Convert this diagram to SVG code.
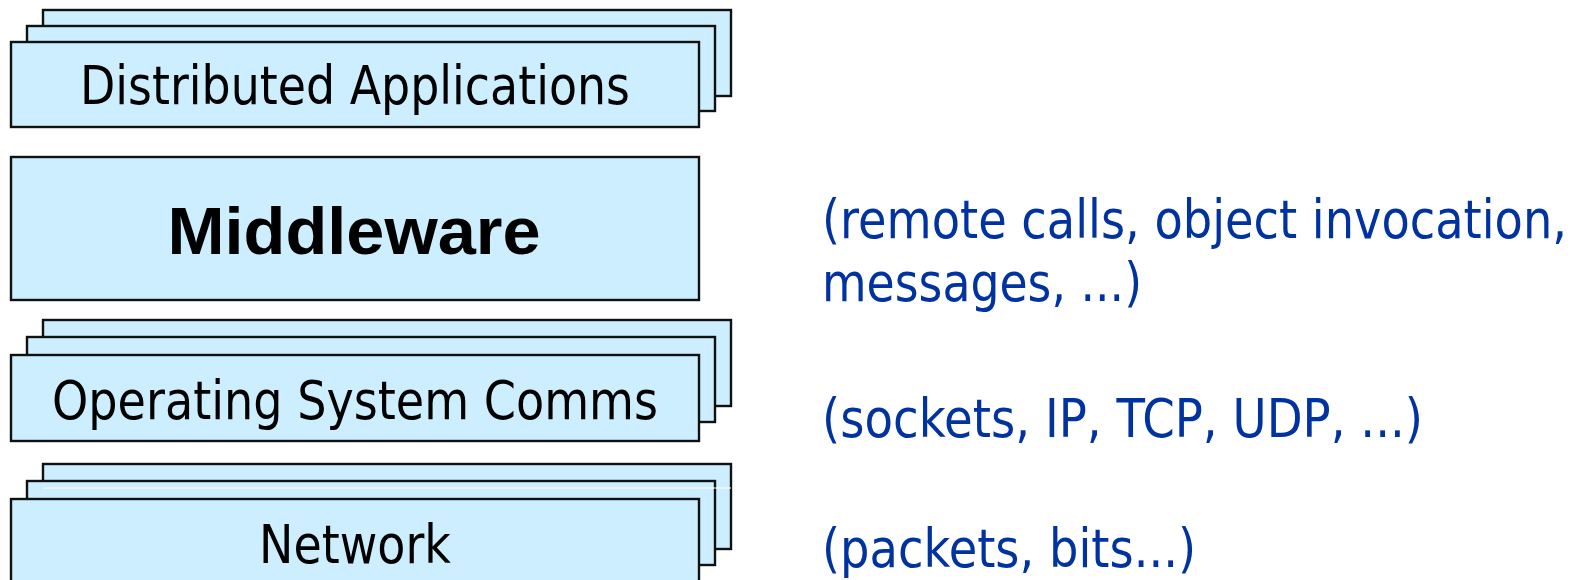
<svg xmlns="http://www.w3.org/2000/svg" width="1576" height="580" viewBox="0 0 1576 580">
  <style>
    .layer { fill: #cceeff; stroke: #111111; stroke-width: 2.4; }
    .label { font-family: "DejaVu Sans", "Liberation Sans", sans-serif; font-size: 53px; fill: #000000; text-anchor: middle; }
    .bold { font-family: "Liberation Sans", Arial, sans-serif; font-size: 67px; font-weight: bold; fill: #000000; text-anchor: middle; }
    .note { font-family: "DejaVu Sans", "Liberation Sans", sans-serif; font-size: 53px; fill: #0033a0; }
  </style>
  <rect width="1576" height="580" fill="#ffffff"/>

  <g id="distributed-applications">
    <rect class="layer" x="43" y="10" width="688" height="86"/>
    <rect class="layer" x="27" y="26" width="688" height="85"/>
    <rect class="layer" x="11" y="42" width="688" height="85"/>
    <text class="label" x="355" y="104" textLength="550" lengthAdjust="spacingAndGlyphs">Distributed Applications</text>
  </g>

  <g id="middleware">
    <rect class="layer" x="11" y="157" width="688" height="143"/>
    <text class="bold" x="354" y="254" textLength="373" lengthAdjust="spacingAndGlyphs">Middleware</text>
  </g>

  <g id="os-comms">
    <rect class="layer" x="43" y="320" width="688" height="86"/>
    <rect class="layer" x="27" y="337" width="688" height="85"/>
    <rect class="layer" x="11" y="355" width="688" height="86"/>
    <text class="label" x="355" y="419" textLength="606" lengthAdjust="spacingAndGlyphs">Operating System Comms</text>
  </g>

  <g id="network">
    <rect class="layer" x="43" y="464" width="688" height="85"/>
    <rect class="layer" x="27" y="481" width="688" height="84"/>
    <line x1="43" y1="488" x2="731" y2="488" stroke="#ffffff" stroke-width="1"/>
    <rect class="layer" x="11" y="499" width="688" height="100"/>
    <text class="label" x="355" y="563" textLength="192" lengthAdjust="spacingAndGlyphs">Network</text>
  </g>

  <g id="notes">
    <text class="note" x="822" y="238" textLength="745" lengthAdjust="spacingAndGlyphs">(remote calls, object invocation,</text>
    <text class="note" x="822" y="301" textLength="320" lengthAdjust="spacingAndGlyphs">messages, ...)</text>
    <text class="note" x="822" y="437" textLength="601" lengthAdjust="spacingAndGlyphs">(sockets, IP, TCP, UDP, ...)</text>
    <text class="note" x="822" y="567" textLength="374" lengthAdjust="spacingAndGlyphs">(packets, bits...)</text>
  </g>

  <g id="connectors"/>
</svg>
